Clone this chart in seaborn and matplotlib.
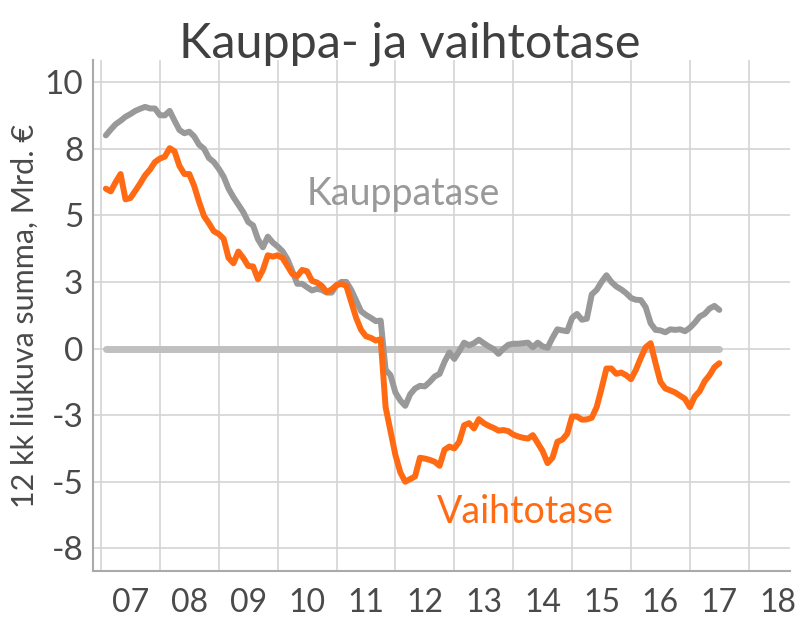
import numpy as np
import pandas as pd
import matplotlib
matplotlib.use("Agg")
import matplotlib.pyplot as plt
from matplotlib.ticker import FuncFormatter
import seaborn as sns

# Monthly 12-month rolling sums, bn EUR, Feb 2007 .. Jul 2017
months = pd.date_range("2007-02-01", periods=126, freq="MS")

kauppatase = [
    8.00, 8.22, 8.42, 8.55, 8.70, 8.80, 8.92, 9.00, 9.07, 9.01, 9.01,
    8.76, 8.75, 8.92, 8.55, 8.20, 8.08, 8.14, 7.96, 7.65, 7.50, 7.15, 7.00,
    6.75, 6.45, 6.00, 5.68, 5.40, 5.12, 4.75, 4.62, 4.10, 3.80, 4.20, 3.98,
    3.83, 3.65, 3.35, 2.90, 2.43, 2.43, 2.30, 2.18, 2.24, 2.20, 2.10, 2.10,
    2.37, 2.50, 2.50, 2.20, 1.80, 1.40, 1.26, 1.15, 1.03, 1.05, -0.80, -1.00,
    -1.65, -1.95, -2.15, -1.72, -1.50, -1.40, -1.42, -1.25, -1.05, -0.95, -0.50, -0.15,
    -0.39, -0.10, 0.22, 0.12, 0.20, 0.33, 0.20, 0.08, -0.02, -0.20, -0.01, 0.14,
    0.18, 0.18, 0.20, 0.22, 0.05, 0.22, 0.08, 0.03, 0.40, 0.72, 0.68, 0.65,
    1.15, 1.30, 1.08, 1.12, 2.03, 2.20, 2.50, 2.75, 2.50, 2.33, 2.22, 2.08,
    1.90, 1.83, 1.82, 1.55, 0.95, 0.70, 0.68, 0.61, 0.72, 0.70, 0.72, 0.65,
    0.78, 0.97, 1.20, 1.30, 1.50, 1.60, 1.45,
]

vaihtotase = [
    6.00, 5.90, 6.25, 6.55, 5.60, 5.65, 5.92, 6.20, 6.50, 6.72, 7.00,
    7.13, 7.20, 7.52, 7.40, 6.85, 6.55, 6.55, 6.10, 5.50, 4.97, 4.70, 4.40,
    4.30, 4.12, 3.40, 3.20, 3.64, 3.40, 3.10, 3.08, 2.60, 2.95, 3.50, 3.45,
    3.50, 3.40, 3.10, 2.80, 2.72, 2.95, 2.90, 2.54, 2.48, 2.35, 2.12, 2.22,
    2.38, 2.43, 2.35, 1.75, 1.15, 0.70, 0.46, 0.40, 0.30, 0.35, -2.20, -3.10,
    -4.00, -4.65, -5.00, -4.90, -4.80, -4.10, -4.13, -4.18, -4.25, -4.40, -3.80, -3.68,
    -3.75, -3.50, -2.88, -2.80, -3.00, -2.65, -2.80, -2.90, -2.98, -3.08, -3.06, -3.10,
    -3.23, -3.30, -3.35, -3.38, -3.25, -3.55, -3.85, -4.30, -4.10, -3.50, -3.42, -3.20,
    -2.55, -2.55, -2.67, -2.66, -2.60, -2.20, -1.50, -0.75, -0.75, -0.95, -0.90, -1.00,
    -1.15, -0.80, -0.35, 0.05, 0.20, -0.55, -1.25, -1.50, -1.57, -1.65, -1.77, -1.89,
    -2.20, -1.80, -1.60, -1.23, -1.00, -0.70, -0.55,
]

years = list(range(2007, 2019))
year_labels = [str(y)[2:] for y in years]
title = "Kauppa- ja vaihtotase"

# decimal year for plotting
t = months.year + (months.month - 1) / 12

df = pd.DataFrame({
    "t": np.concatenate([t, t]),
    "value": kauppatase + vaihtotase,
    "series": ["Kauppatase"] * len(t) + ["Vaihtotase"] * len(t),
})
zero = pd.DataFrame({"t": t, "value": np.zeros(len(t))})

sns.set_style("white")
plt.rcParams["font.family"] = ["Lato", "DejaVu Sans"]

fig, ax = plt.subplots(figsize=(7.96, 6.19), dpi=100)
fig.subplots_adjust(left=93 / 796, right=790 / 796, top=1 - 60 / 619, bottom=1 - 571 / 619)

sns.lineplot(data=zero, x="t", y="value", color="#c0c0c0", linewidth=5, ax=ax)
sns.lineplot(data=df, x="t", y="value", hue="series",
             palette={"Kauppatase": "#999999", "Vaihtotase": "#ff6a13"},
             linewidth=4.3, legend=False, ax=ax)

ax.set_xlim(2006.865, 2018.70)
ax.set_ylim(-8.35, 10.83)

# gridlines at year boundaries, labels at mid-year
ax.set_xticks(years, minor=False)
ax.set_xticklabels([""] * len(years))
ax.set_xticks([y + 0.5 for y in years], minor=True)
ax.set_xticklabels(year_labels, minor=True)
ax.tick_params(axis="x", which="both", length=0, pad=12, labelsize=23, labelcolor="#4a4a4a")

ax.set_yticks(np.arange(-7.5, 10.1, 2.5))
ax.yaxis.set_major_formatter(FuncFormatter(
    lambda v, p: f"{int(np.sign(v) * np.floor(abs(v) + 0.5))}"))
ax.tick_params(axis="y", length=0, pad=7, labelsize=24, labelcolor="#4a4a4a")

ax.grid(True, which="major", color="#d4d4d4", linewidth=1.2)
ax.set_axisbelow(True)
for side in ["top", "right"]:
    ax.spines[side].set_visible(False)
for side in ["left", "bottom"]:
    ax.spines[side].set_color("#aaaaaa")
    ax.spines[side].set_linewidth(1.5)

ax.set_xlabel("")
ax.set_ylabel("12 kk liukuva summa, Mrd. €", fontsize=22, color="#4a4a4a", labelpad=4)

ax.text(2010.5, 5.8, "Kauppatase", fontsize=27, color="#999999", va="center", ha="left")
ax.text(2012.7, -6.15, "Vaihtotase", fontsize=27, color="#ff6a13", va="center", ha="left")

fig.suptitle(title, x=0.515, y=0.965, fontsize=35, color="#404040")

fig.savefig("out.png", dpi=100)
